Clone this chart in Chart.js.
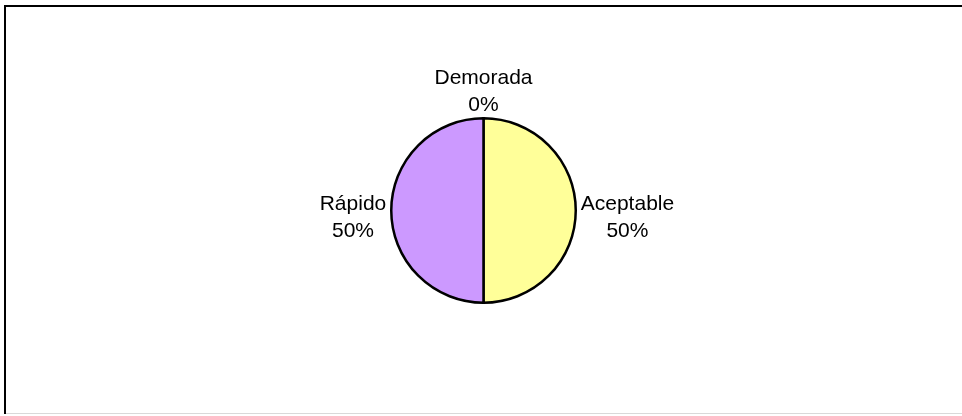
<!DOCTYPE html>
<html>
<head>
<meta charset="utf-8">
<script src="https://cdn.jsdelivr.net/npm/chart.js@4/dist/chart.umd.min.js"></script>
<style>
  html, body { margin: 0; padding: 0; background: #fff; }
  #wrap { width: 962px; height: 416px; position: relative; }
</style>
</head>
<body>
<div id="wrap"><canvas id="tiempoChart" width="962" height="416"></canvas></div>
<script>
// DATA
const categories = ["Aceptable", "Rápido", "Demorada"];
const percents = [50, 50, 0];
const sliceColors = ["#FFFF99", "#CC99FF", "#9999FF"];

const FONT = "21px 'Liberation Sans', Arial, sans-serif";
const LINE_H = 27;

// outer frame of the chart
const frame = {
  id: "frame",
  beforeDraw(chart) {
    const c = chart.ctx;
    c.save();
    c.fillStyle = "#fff";
    c.fillRect(0, 0, chart.width, chart.height);
    c.strokeStyle = "#000";
    c.lineWidth = 2;
    c.beginPath();
    c.moveTo(chart.width, 6);
    c.lineTo(5, 6);
    c.lineTo(5, 414);
    c.stroke();
    c.strokeStyle = "#d9d9d9";
    c.lineWidth = 1;
    c.beginPath();
    c.moveTo(6, 413.5);
    c.lineTo(chart.width, 413.5);
    c.stroke();
    c.restore();
  }
};

// category name + percent outside each slice
const outsideLabels = {
  id: "outsideLabels",
  afterDatasetsDraw(chart) {
    const c = chart.ctx;
    const meta = chart.getDatasetMeta(0);
    c.save();
    c.font = FONT;
    c.fillStyle = "#000";
    c.textAlign = "center";
    c.textBaseline = "middle";
    meta.data.forEach((arc, i) => {
      const { x, y, startAngle, endAngle, outerRadius } = arc.getProps(
        ["x", "y", "startAngle", "endAngle", "outerRadius"], true);
      const mid = (startAngle + endAngle) / 2;
      const dx = Math.cos(mid), dy = Math.sin(mid);
      const lines = [categories[i], percents[i] + "%"];
      const w = Math.max(...lines.map(t => c.measureText(t).width));
      const h = lines.length * LINE_H;
      const side = Math.abs(dy) < 0.5;
      const gap = side ? 5 : 1;
      const d = outerRadius + gap + Math.abs(dx) * w / 2 + Math.abs(dy) * h / 2;
      const cx = x + dx * d;
      const cy = y + dy * d + (side ? 6 : 0) + 1;
      lines.forEach((t, k) => {
        c.fillText(t, cx, cy - h / 2 + LINE_H * (k + 0.5));
      });
    });
    c.restore();
  }
};

new Chart(document.getElementById("tiempoChart"), {
  type: "pie",
  data: {
    labels: categories,
    datasets: [{
      data: percents,
      backgroundColor: sliceColors,
      borderColor: "#000",
      borderWidth: 2.5,
      borderJoinStyle: "miter"
    }]
  },
  options: {
    responsive: false,
    animation: false,
    layout: { padding: { top: 117, bottom: 112, left: 300, right: 295 } },
    plugins: {
      legend: { display: false },
      tooltip: { enabled: false }
    }
  },
  plugins: [frame, outsideLabels]
});
</script>
</body>
</html>
